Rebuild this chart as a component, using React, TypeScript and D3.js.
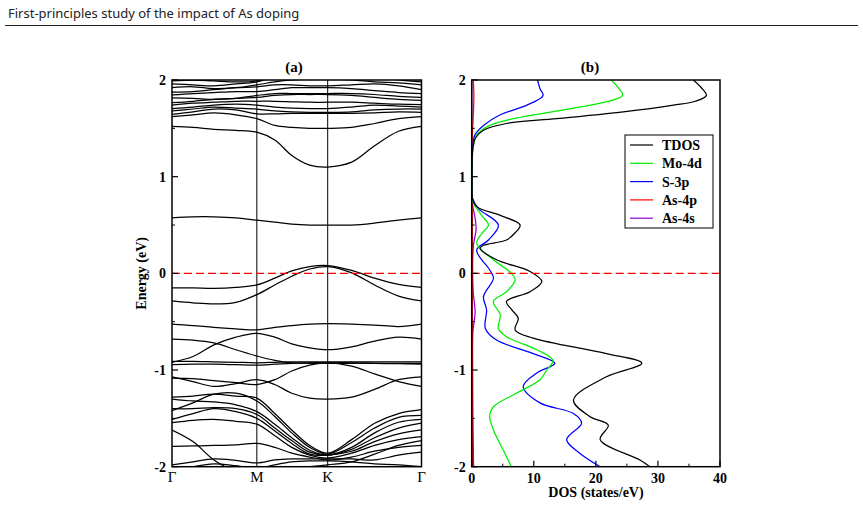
import * as d3 from "d3";

// k-path (cumulative distance) and high-symmetry points
const K_PATH = [0, 0.21, 0.42, 0.64, 0.85, 1.03, 1.2, 1.38, 1.56, 1.8, 2.03, 2.27, 2.5];
const K_TICKS = [0, 0.85, 1.56, 2.5];
const K_LABELS = ["Γ", "M", "K", "Γ"];

// band energies (eV) sampled along K_PATH
const BANDS = [
  [0.575, 0.585, 0.585, 0.575, 0.55, 0.53, 0.51, 0.5, 0.5, 0.5, 0.52, 0.55, 0.575],
  [1.52, 1.51, 1.49, 1.48, 1.46, 1.38, 1.22, 1.12, 1.1, 1.15, 1.32, 1.47, 1.52],
  [1.62, 1.64, 1.66, 1.64, 1.6, 1.53, 1.51, 1.5, 1.5, 1.51, 1.55, 1.6, 1.62],
  [1.645, 1.67, 1.7, 1.69, 1.65, 1.65, 1.655, 1.655, 1.655, 1.655, 1.66, 1.67, 1.665],
  [1.68, 1.7, 1.72, 1.71, 1.7, 1.68, 1.67, 1.665, 1.665, 1.67, 1.69, 1.7, 1.7],
  [1.705, 1.72, 1.74, 1.75, 1.74, 1.72, 1.71, 1.705, 1.705, 1.72, 1.74, 1.73, 1.72],
  [1.74, 1.76, 1.77, 1.78, 1.78, 1.78, 1.775, 1.77, 1.77, 1.77, 1.76, 1.75, 1.745],
  [1.765, 1.78, 1.8, 1.81, 1.82, 1.84, 1.85, 1.85, 1.85, 1.84, 1.82, 1.8, 1.79],
  [1.815, 1.81, 1.8, 1.81, 1.84, 1.86, 1.86, 1.86, 1.86, 1.86, 1.85, 1.83, 1.82],
  [1.845, 1.86, 1.87, 1.88, 1.88, 1.9, 1.92, 1.92, 1.92, 1.91, 1.89, 1.87, 1.86],
  [1.875, 1.88, 1.9, 1.92, 1.93, 1.95, 1.95, 1.94, 1.94, 1.95, 1.96, 1.94, 1.9],
  [1.92, 1.93, 1.91, 1.92, 1.95, 1.98, 2.0, 2.01, 2.01, 2.0, 1.98, 1.97, 1.95],
  [1.96, 1.95, 1.94, 1.96, 1.98, 2.03, 2.06, 2.08, 2.08, 2.06, 2.03, 2.0, 1.98],
  [1.99, 2.0, 1.99, 1.98, 1.99, 2.05, 2.1, 2.12, 2.12, 2.1, 2.06, 2.02, 2.0],
  [-0.15, -0.15, -0.155, -0.145, -0.12, -0.05, 0.025, 0.07, 0.08, 0.03, -0.05, -0.115, -0.145],
  [-0.285, -0.305, -0.317, -0.3, -0.22, -0.12, -0.03, 0.045, 0.07, 0.005, -0.12, -0.235, -0.285],
  [-0.525, -0.54, -0.56, -0.575, -0.585, -0.56, -0.54, -0.525, -0.52, -0.525, -0.535, -0.55, -0.525],
  [-0.92, -0.86, -0.74, -0.66, -0.62, -0.66, -0.73, -0.77, -0.79, -0.76, -0.7, -0.66, -0.68],
  [-0.68, -0.69, -0.72, -0.79, -0.855, -0.9, -0.925, -0.93, -0.93, -0.93, -0.93, -0.935, -0.94],
  [-0.91, -0.91, -0.915, -0.92, -0.925, -0.92, -0.915, -0.915, -0.915, -0.915, -0.915, -0.915, -0.915],
  [-0.945, -0.94, -0.94, -0.945, -0.95, -0.94, -0.93, -0.925, -0.925, -0.925, -0.93, -0.93, -0.93],
  [-1.085, -1.09, -1.11, -1.13, -1.15, -1.1, -1.01, -0.95, -0.925, -0.96, -1.04, -1.12, -1.17],
  [-1.07, -1.12, -1.17, -1.14, -1.1, -1.15, -1.24, -1.29, -1.3, -1.28, -1.2, -1.1, -1.07],
  [-1.28, -1.27, -1.25, -1.27, -1.29, -1.45, -1.62, -1.78, -1.86, -1.72, -1.55, -1.45, -1.41],
  [-1.42, -1.34, -1.25, -1.24, -1.32, -1.48, -1.65, -1.8, -1.87, -1.75, -1.6, -1.49, -1.47],
  [-1.3, -1.32, -1.33, -1.36, -1.43, -1.56, -1.7, -1.83, -1.88, -1.8, -1.65, -1.54, -1.51],
  [-1.4, -1.4, -1.39, -1.4, -1.46, -1.6, -1.73, -1.85, -1.88, -1.82, -1.7, -1.6, -1.55],
  [-1.51, -1.45, -1.4, -1.43, -1.5, -1.63, -1.76, -1.87, -1.88, -1.84, -1.74, -1.66, -1.62],
  [-1.545, -1.52, -1.51, -1.53, -1.56, -1.68, -1.8, -1.88, -1.91, -1.86, -1.78, -1.72, -1.69],
  [-1.62, -1.74, -1.93, -2.05, -2.1, -2.1, -2.1, -2.1, -2.1, -2.1, -2.1, -2.1, -2.1],
  [-1.79, -1.785, -1.78, -1.775, -1.76, -1.8, -1.86, -1.9, -1.93, -1.9, -1.84, -1.8, -1.78],
  [-1.98, -1.95, -1.92, -1.935, -1.96, -1.93, -1.92, -1.92, -1.92, -1.92, -1.93, -1.88, -1.85],
  [-2.05, -2.0, -1.97, -1.99, -2.02, -1.98, -1.95, -1.94, -1.94, -1.95, -1.97, -1.98, -2.0],
  [-2.1, -2.1, -2.1, -2.1, -2.08, -2.05, -2.02, -2.0, -1.98, -1.95, -1.87, -1.78, -1.73],
];

const E_TICKS = [-2, -1, 0, 1, 2];
const E_MINOR = [-1.5, -0.5, 0.5, 1.5];
const DOS_TICKS = [0, 10, 20, 30, 40];
const DOS_MINOR = [5, 15, 25, 35];

// density of states: [energy (eV), states/eV]
const TDOS: [number, number][] = [
  [2.0, 35.7], [1.92, 37.0], [1.84, 37.8], [1.78, 36.0], [1.74, 32.5], [1.67, 24.4],
  [1.6, 13.7], [1.55, 5.6], [1.48, 1.9], [1.4, 0.6], [1.3, 0.2], [1.1, 0.05], [0.9, 0.05],
  [0.78, 0.1], [0.69, 0.8], [0.6, 4.6], [0.5, 7.8], [0.42, 7.0], [0.345, 5.6], [0.29, 1.9],
  [0.26, 1.34], [0.14, 4.0], [0.02, 9.4], [-0.085, 11.3], [-0.19, 9.4], [-0.29, 5.6],
  [-0.38, 6.5], [-0.465, 7.5], [-0.585, 7.0], [-0.67, 9.9], [-0.83, 21.7], [-0.93, 27.4],
  [-1.07, 21.7], [-1.31, 16.4], [-1.48, 19.0], [-1.57, 22.0], [-1.72, 20.7], [-1.93, 27.1],
  [-2.0, 28.7],
];
const MO_4D: [number, number][] = [
  [2.0, 22.5], [1.92, 23.6], [1.84, 24.3], [1.76, 20.7], [1.71, 16.4], [1.65, 11.0],
  [1.62, 8.3], [1.53, 2.9], [1.43, 0.8], [1.33, 0.3], [1.1, 0.05], [0.9, 0.05], [0.75, 0.1],
  [0.6, 1.6], [0.5, 2.7], [0.41, 1.6], [0.31, 0.8], [0.14, 3.5], [0.0, 6.4], [-0.07, 7.0],
  [-0.19, 5.6], [-0.29, 3.5], [-0.43, 4.6], [-0.57, 4.3], [-0.655, 5.6], [-0.79, 10.5],
  [-0.9, 13.1], [-1.0, 12.1], [-1.1, 11.0], [-1.24, 7.2], [-1.38, 3.5], [-1.48, 2.9],
  [-1.62, 3.5], [-1.83, 5.1], [-2.0, 6.4],
];
const S_3P: [number, number][] = [
  [2.0, 10.6], [1.91, 11.0], [1.84, 11.5], [1.74, 8.9], [1.64, 4.6], [1.53, 1.9],
  [1.43, 0.5], [1.3, 0.15], [1.1, 0.05], [0.9, 0.05], [0.78, 0.1], [0.67, 1.1], [0.5, 4.3],
  [0.345, 2.7], [0.24, 0.8], [0.035, 2.9], [-0.05, 3.5], [-0.24, 1.9], [-0.38, 2.4],
  [-0.57, 2.2], [-0.69, 4.0], [-0.83, 9.9], [-0.93, 13.4], [-1.03, 10.5], [-1.17, 8.3],
  [-1.34, 11.0], [-1.45, 16.4], [-1.55, 17.7], [-1.72, 15.3], [-1.86, 17.4], [-2.0, 20.7],
];
const AS_4P: [number, number][] = [
  [2.0, 0.25], [1.85, 0.35], [1.7, 0.3], [1.55, 0.2], [1.4, 0.08], [1.0, 0.03], [0.5, 0.1],
  [0.0, 0.08], [-0.5, 0.1], [-1.0, 0.12], [-1.5, 0.1], [-2.0, 0.12],
];
const AS_4S: [number, number][] = [
  [2.0, 0.02], [1.0, 0.02], [0.75, 0.05], [0.55, 0.6], [0.45, 0.7], [0.3, 0.3], [0.1, 0.15],
  [-0.2, 0.25], [-0.4, 0.55], [-0.6, 0.2], [-1.0, 0.15], [-1.5, 0.2], [-2.0, 0.3],
];

const SERIES = [
  { name: "TDOS", color: "#000000", data: TDOS },
  { name: "Mo-4d", color: "#00ee00", data: MO_4D },
  { name: "S-3p", color: "#0000ff", data: S_3P },
  { name: "As-4p", color: "#ff0000", data: AS_4P },
  { name: "As-4s", color: "#9400d3", data: AS_4S },
];
const DRAW_ORDER = ["As-4s", "As-4p", "S-3p", "Mo-4d", "TDOS"];

const W = 863;
const H = 508;
const TOP = 80;
const BOTTOM = 466.7;
const FERMI = "#ff0000";
const serif = "'Liberation Serif', 'Times New Roman', serif";

export default function App() {
  const y = d3.scaleLinear().domain([-2, 2]).range([BOTTOM, TOP]);
  const xk = d3.scaleLinear().domain([0, 2.5]).range([172, 421.5]);
  const xd = d3.scaleLinear().domain([0, 40]).range([471.7, 720]);

  const bandLine = d3
    .line<number>()
    .x((_, i) => xk(K_PATH[i]))
    .y((e) => y(e))
    .curve(d3.curveCatmullRom.alpha(0.5));

  const dosLine = d3
    .line<[number, number]>()
    .x((d) => xd(d[1]))
    .y((d) => y(d[0]))
    .curve(d3.curveCatmullRom.alpha(0.5));

  const [ax0, ax1] = xk.range();
  const [bx0, bx1] = xd.range();

  const yAxis = (x0: number) => (
    <g>
      {E_TICKS.map((t) => (
        <g key={t}>
          <line x1={x0} x2={x0 + 6} y1={y(t)} y2={y(t)} stroke="#000" strokeWidth={1.2} />
          <text
            x={x0 - 6}
            y={y(t)}
            dy="0.35em"
            textAnchor="end"
            fontFamily={serif}
            fontWeight="bold"
            fontSize={14}
          >
            {t}
          </text>
        </g>
      ))}
      {E_MINOR.map((t) => (
        <line key={t} x1={x0} x2={x0 + 3} y1={y(t)} y2={y(t)} stroke="#000" strokeWidth={1} />
      ))}
    </g>
  );

  return (
    <svg
      width={W}
      height={H}
      viewBox={`0 0 ${W} ${H}`}
      style={{ position: "absolute", left: 0, top: 0, background: "#fff" }}
    >
      <defs>
        <clipPath id="clipA">
          <rect x={ax0} y={TOP} width={ax1 - ax0} height={BOTTOM - TOP} />
        </clipPath>
        <clipPath id="clipB">
          <rect x={bx0} y={TOP} width={bx1 - bx0} height={BOTTOM - TOP} />
        </clipPath>
      </defs>

      <text x={8} y={18} fontFamily="'Noto Sans', 'Open Sans', sans-serif" fontSize={13} fill="#222">
        First-principles study of the impact of As doping
      </text>
      <line x1={5} x2={858} y1={25.5} y2={25.5} stroke="#222" strokeWidth={1} />

      {/* (a) band structure */}
      <text x={294} y={72} textAnchor="middle" fontFamily={serif} fontWeight="bold" fontSize={15}>
        (a)
      </text>
      <g clipPath="url(#clipA)">
        {BANDS.map((b, i) => (
          <path key={i} d={bandLine(b) ?? ""} fill="none" stroke="#000" strokeWidth={1.25} />
        ))}
      </g>
      {K_TICKS.slice(1, -1).map((k) => (
        <line key={k} x1={xk(k)} x2={xk(k)} y1={TOP} y2={BOTTOM} stroke="#000" strokeWidth={1} />
      ))}
      <line x1={ax0} x2={ax1} y1={y(0)} y2={y(0)} stroke={FERMI} strokeWidth={1.3} strokeDasharray="8,4" />
      <rect x={ax0} y={TOP} width={ax1 - ax0} height={BOTTOM - TOP} fill="none" stroke="#000" strokeWidth={1.5} />
      {yAxis(ax0)}
      {K_TICKS.map((k, i) => (
        <text key={i} x={xk(k)} y={482} textAnchor="middle" fontFamily={serif} fontSize={15}>
          {K_LABELS[i]}
        </text>
      ))}
      <text
        transform={`translate(146,${y(0)}) rotate(-90)`}
        textAnchor="middle"
        fontFamily={serif}
        fontWeight="bold"
        fontSize={14}
      >
        Energy (eV)
      </text>

      {/* (b) density of states */}
      <text x={590} y={72} textAnchor="middle" fontFamily={serif} fontWeight="bold" fontSize={15}>
        (b)
      </text>
      <g clipPath="url(#clipB)">
        {DRAW_ORDER.map((name) => {
          const s = SERIES.find((d) => d.name === name)!;
          return <path key={name} d={dosLine(s.data) ?? ""} fill="none" stroke={s.color} strokeWidth={1.25} />;
        })}
      </g>
      <line x1={bx0} x2={bx1} y1={y(0)} y2={y(0)} stroke={FERMI} strokeWidth={1.3} strokeDasharray="8,4" />
      <rect x={bx0} y={TOP} width={bx1 - bx0} height={BOTTOM - TOP} fill="none" stroke="#000" strokeWidth={1.5} />
      {yAxis(bx0)}
      {DOS_TICKS.map((t) => (
        <g key={t}>
          <line x1={xd(t)} x2={xd(t)} y1={BOTTOM} y2={BOTTOM - 6} stroke="#000" strokeWidth={1.2} />
          <text x={xd(t)} y={483} textAnchor="middle" fontFamily={serif} fontWeight="bold" fontSize={14}>
            {t}
          </text>
        </g>
      ))}
      {DOS_MINOR.map((t) => (
        <line key={t} x1={xd(t)} x2={xd(t)} y1={BOTTOM} y2={BOTTOM - 3} stroke="#000" strokeWidth={1} />
      ))}
      <text x={596} y={497} textAnchor="middle" fontFamily={serif} fontWeight="bold" fontSize={14}>
        DOS (states/eV)
      </text>

      {/* legend */}
      <rect x={625} y={135} width={88} height={93} fill="#fff" stroke="#000" strokeWidth={1} />
      {SERIES.map((s, i) => {
        const ly = 145 + i * 18.3;
        return (
          <g key={s.name}>
            <line x1={630} x2={653} y1={ly} y2={ly} stroke={s.color} strokeWidth={1.2} />
            <text x={662} y={ly} dy="0.35em" fontFamily={serif} fontWeight="bold" fontSize={14}>
              {s.name}
            </text>
          </g>
        );
      })}
    </svg>
  );
}
